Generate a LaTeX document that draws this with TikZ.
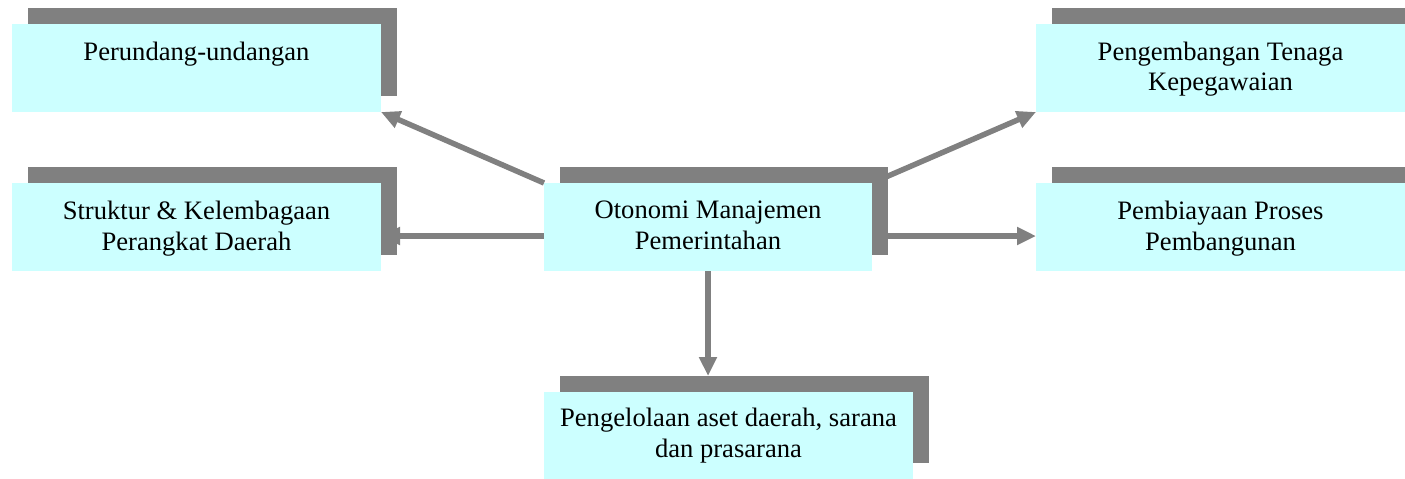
\documentclass[tikz,border=0pt]{standalone}
\usepackage{fontspec}
\setmainfont{Liberation Serif}
\usetikzlibrary{arrows.meta}
\definecolor{boxcyan}{HTML}{CCFFFF}
\definecolor{shadowgray}{HTML}{808080}
\pgfdeclarelayer{connlayer}
\pgfdeclarelayer{shadowlayer}
\pgfsetlayers{connlayer,shadowlayer,main}
\tikzset{
  box/.style={fill=boxcyan, draw=none, minimum width=369pt, minimum height=88pt, inner sep=0pt, outer sep=0pt},
  shadowbox/.style={fill=shadowgray, draw=none, minimum width=369pt, minimum height=88pt, inner sep=0pt, outer sep=0pt},
  boxtext/.style={anchor=north, inner sep=0pt, align=center, font=\fontsize{26.6}{30.5}\selectfont},
  conn/.style={draw=shadowgray, line width=5.5pt, -{Triangle[length=19pt,width=17pt]}},
}
\begin{document}
\begin{tikzpicture}[x=1pt,y=-1pt]
\useasboundingbox (0,0) rectangle (1405,479);
\clip (0,0) rectangle (1405,479);
% shadows
\begin{pgfonlayer}{shadowlayer}
\node[shadowbox] (As) at (212.5,52) {};
\node[shadowbox] (Bs) at (212.5,211) {};
\node[shadowbox, minimum width=328pt] (Cs) at (724,211) {};
\node[shadowbox, minimum height=87pt] (Ds) at (744.5,419.5) {};
\node[shadowbox] (Es) at (1236.5,52) {};
\node[shadowbox] (Fs) at (1236.5,211) {};
\end{pgfonlayer}
% boxes
\node[box] (A) at (196.5,68) {};
\node[box] (B) at (196.5,227) {};
\node[box, minimum width=328pt] (C) at (708,227) {};
\node[box, minimum height=87pt] (D) at (728.5,435.5) {};
\node[box] (E) at (1220.5,68) {};
\node[box] (F) at (1220.5,227) {};
% texts
\node[boxtext] (At) at ([yshift=-18pt]A.north) {Perundang-undangan};
\node[boxtext] (Bt) at ([yshift=-18pt]B.north) {Struktur \& Kelembagaan\\Perangkat Daerah};
\node[boxtext] (Ct) at ([yshift=-18pt]C.north) {Otonomi Manajemen\\Pemerintahan};
\node[boxtext] (Dt) at ([yshift=-16pt]D.north) {Pengelolaan aset daerah, sarana\\dan prasarana};
\node[boxtext] (Et) at ([yshift=-17.5pt]E.north) {Pengembangan Tenaga\\Kepegawaian};
\node[boxtext] (Ft) at ([yshift=-18pt]F.north) {Pembiayaan Proses\\Pembangunan};
% connectors (behind shadows and boxes)
\begin{pgfonlayer}{connlayer}
\draw[conn] (C.north west) -- (A.south east);
\draw[conn] ([yshift=-9pt]C.west) -- ([yshift=-9pt]B.east);
\draw[conn] (C.north east) -- (E.south west);
\draw[conn] ([yshift=-9pt]C.east) -- ([yshift=-9pt]F.west);
\draw[conn] (C.south) -- (C.south |- Ds.north);
\end{pgfonlayer}
\end{tikzpicture}
\end{document}
